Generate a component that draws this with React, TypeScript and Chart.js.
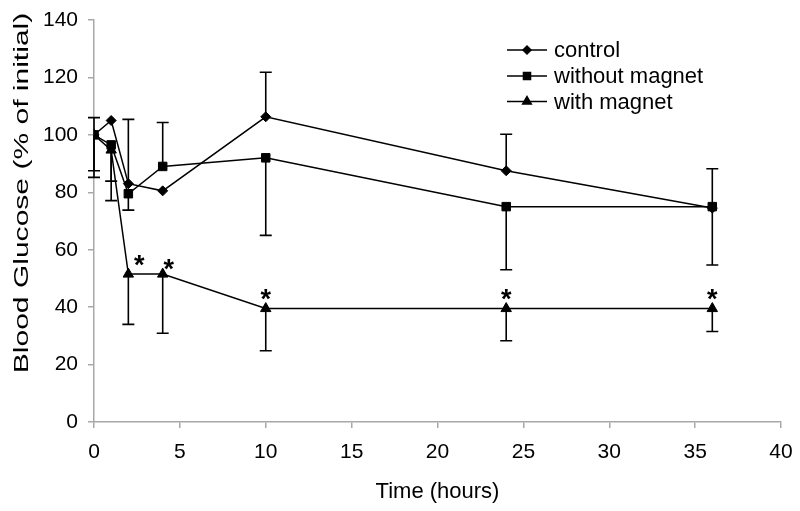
import React, { useEffect, useRef } from 'react';
import { Chart, registerables } from 'chart.js';
import { drawPoint } from 'chart.js/helpers';

Chart.register(...registerables);

const times = [0, 1, 2, 4, 10, 24, 36];
const seriesNames = ['control', 'without magnet', 'with magnet'];
const controlValues = [100, 105, 83, 80.5, 106.3, 87.5, 74.5];
const withoutMagnetValues = [100, 96.5, 79.5, 89, 92, 75, 75];
const withMagnetValues = [100, 94.7, 51.5, 51.5, 39.5, 39.5, 39.5];
const controlErrUp = [6, null, 22.4, null, 15.5, 12.7, 13.7];
const controlErrDown = [12.5, null, null, null, null, null, 19.8];
const withoutMagnetErrUp = [null, null, null, 15.3, null, null, null];
const withoutMagnetErrDown = [14.8, 19.4, 5.7, null, 27, 22, null];
const withMagnetErrUp = [null, null, null, null, null, null, null];
const withMagnetErrDown = [null, 10.8, 17.5, 20.6, 14.7, 11.2, 8];
const withMagnetSignificant = [false, false, true, true, true, true, true];
const yTitle = 'Blood Glucose (% of initial)';
const xTitle = 'Time (hours)';

const FONT = "'Liberation Sans', Arial, sans-serif";
const pointStyles = ['rectRot', 'rect', 'triangle'];
const pointRadii = [5, 6, 6];
const errUps = [controlErrUp, withoutMagnetErrUp, withMagnetErrUp];
const errDowns = [controlErrDown, withoutMagnetErrDown, withMagnetErrDown];
const starDx = [0, 0, 11, 6, 0, 0, 0];
const starDy = [-16, -16, -16, -12, -16, -16, -16];

const errorBarPlugin = {
  id: 'errorBars',
  beforeDatasetsDraw(chart: any) {
    const ctx = chart.ctx;
    const xs = chart.scales.x;
    const ys = chart.scales.y;
    ctx.save();
    ctx.strokeStyle = '#000';
    ctx.lineWidth = 1.6;
    const cap = 6;
    const values = [controlValues, withoutMagnetValues, withMagnetValues];
    values.forEach((vals, i) => {
      vals.forEach((v, j) => {
        const x = xs.getPixelForValue(times[j]);
        const y0 = ys.getPixelForValue(v);
        const up = errUps[i][j];
        const dn = errDowns[i][j];
        [up, dn === null ? null : -dn].forEach((e) => {
          if (e === null || e === undefined) return;
          const y1 = ys.getPixelForValue(v + e);
          ctx.beginPath();
          ctx.moveTo(x, y0);
          ctx.lineTo(x, y1);
          ctx.moveTo(x - cap, y1);
          ctx.lineTo(x + cap, y1);
          ctx.stroke();
        });
      });
    });
    ctx.restore();
  },
  afterDatasetsDraw(chart: any) {
    const ctx = chart.ctx;
    const meta = chart.getDatasetMeta(2);
    ctx.save();
    ctx.fillStyle = '#000';
    const fs = 27;
    ctx.font = `bold ${fs}px ${FONT}`;
    ctx.textAlign = 'center';
    ctx.textBaseline = 'alphabetic';
    meta.data.forEach((pt: any, j: number) => {
      if (!withMagnetSignificant[j]) return;
      ctx.fillText('*', pt.x + starDx[j], pt.y + starDy[j] + 0.57 * fs);
    });
    ctx.restore();
  },
  afterDraw(chart: any) {
    const ctx = chart.ctx;
    ctx.save();
    // legend
    const rowY = [50, 76, 101.5];
    seriesNames.forEach((name, i) => {
      const y = rowY[i];
      ctx.strokeStyle = '#000';
      ctx.lineWidth = 1.5;
      ctx.beginPath();
      ctx.moveTo(507, y);
      ctx.lineTo(547, y);
      ctx.stroke();
      ctx.fillStyle = '#000';
      drawPoint(ctx, { pointStyle: pointStyles[i], radius: pointRadii[i] - 1, rotation: 0, borderWidth: 1 } as any, 527, y);
      ctx.fill();
      ctx.font = `22px ${FONT}`;
      ctx.textAlign = 'left';
      ctx.textBaseline = 'middle';
      ctx.fillText(name, 554, y + 1);
    });
    // y title (stretched along its length as in the reference)
    ctx.translate(22.5, 193);
    ctx.rotate(-Math.PI / 2);
    ctx.scale(1.43, 1);
    ctx.font = `21px ${FONT}`;
    ctx.textAlign = 'center';
    ctx.textBaseline = 'middle';
    ctx.fillStyle = '#000';
    ctx.fillText(yTitle, 0, 0);
    ctx.restore();
  },
};

export default function App() {
  const ref = useRef<HTMLCanvasElement | null>(null);
  useEffect(() => {
    document.body.style.margin = '0';
    const canvas = ref.current!;
    const mk = (label: string, vals: number[], i: number) => ({
      label,
      data: vals.map((v, j) => ({ x: times[j], y: v })),
      borderColor: '#000',
      backgroundColor: '#000',
      borderWidth: 1.5,
      pointStyle: pointStyles[i],
      pointRadius: pointRadii[i],
      pointBorderWidth: 1,
      pointBackgroundColor: '#000',
      pointBorderColor: '#000',
      tension: 0,
    });
    const chart = new Chart(canvas, {
      type: 'line',
      data: {
        datasets: [
          mk(seriesNames[0], controlValues, 0),
          mk(seriesNames[1], withoutMagnetValues, 1),
          mk(seriesNames[2], withMagnetValues, 2),
        ],
      },
      options: {
        responsive: false,
        animation: false,
        devicePixelRatio: 1,
        layout: { padding: { top: 20, right: 19, left: 0, bottom: 0 } },
        plugins: { legend: { display: false }, tooltip: { enabled: false } },
        scales: {
          x: {
            type: 'linear',
            min: 0,
            max: 40,
            ticks: { stepSize: 5, color: '#000', font: { family: FONT, size: 21 }, padding: 12, maxRotation: 0 },
            grid: { drawOnChartArea: false, drawTicks: true, tickLength: 6, color: '#a8a8a8', lineWidth: 1.5 },
            border: { color: '#a8a8a8', width: 1.5 },
            title: { display: true, text: xTitle, color: '#000', font: { family: FONT, size: 22 }, padding: { top: 0, bottom: 6 } },
            afterFit: (s: any) => {
              s.height = 89;
              s.paddingLeft = 0;
              s.paddingRight = 0;
            },
          },
          y: {
            type: 'linear',
            min: 0,
            max: 140,
            ticks: { stepSize: 20, color: '#000', font: { family: FONT, size: 21 }, padding: 10 },
            grid: { drawOnChartArea: false, drawTicks: true, tickLength: 6, color: '#a8a8a8', lineWidth: 1.5 },
            border: { color: '#a8a8a8', width: 1.5 },
            afterFit: (s: any) => {
              s.width = 94;
              s.paddingTop = 0;
              s.paddingBottom = 0;
            },
          },
        },
      } as any,
      plugins: [errorBarPlugin],
    });
    return () => chart.destroy();
  }, []);
  return (
    <div style={{ width: 800, height: 511 }}>
      <canvas ref={ref} width={800} height={511} style={{ width: '800px', height: '511px' }} />
    </div>
  );
}
